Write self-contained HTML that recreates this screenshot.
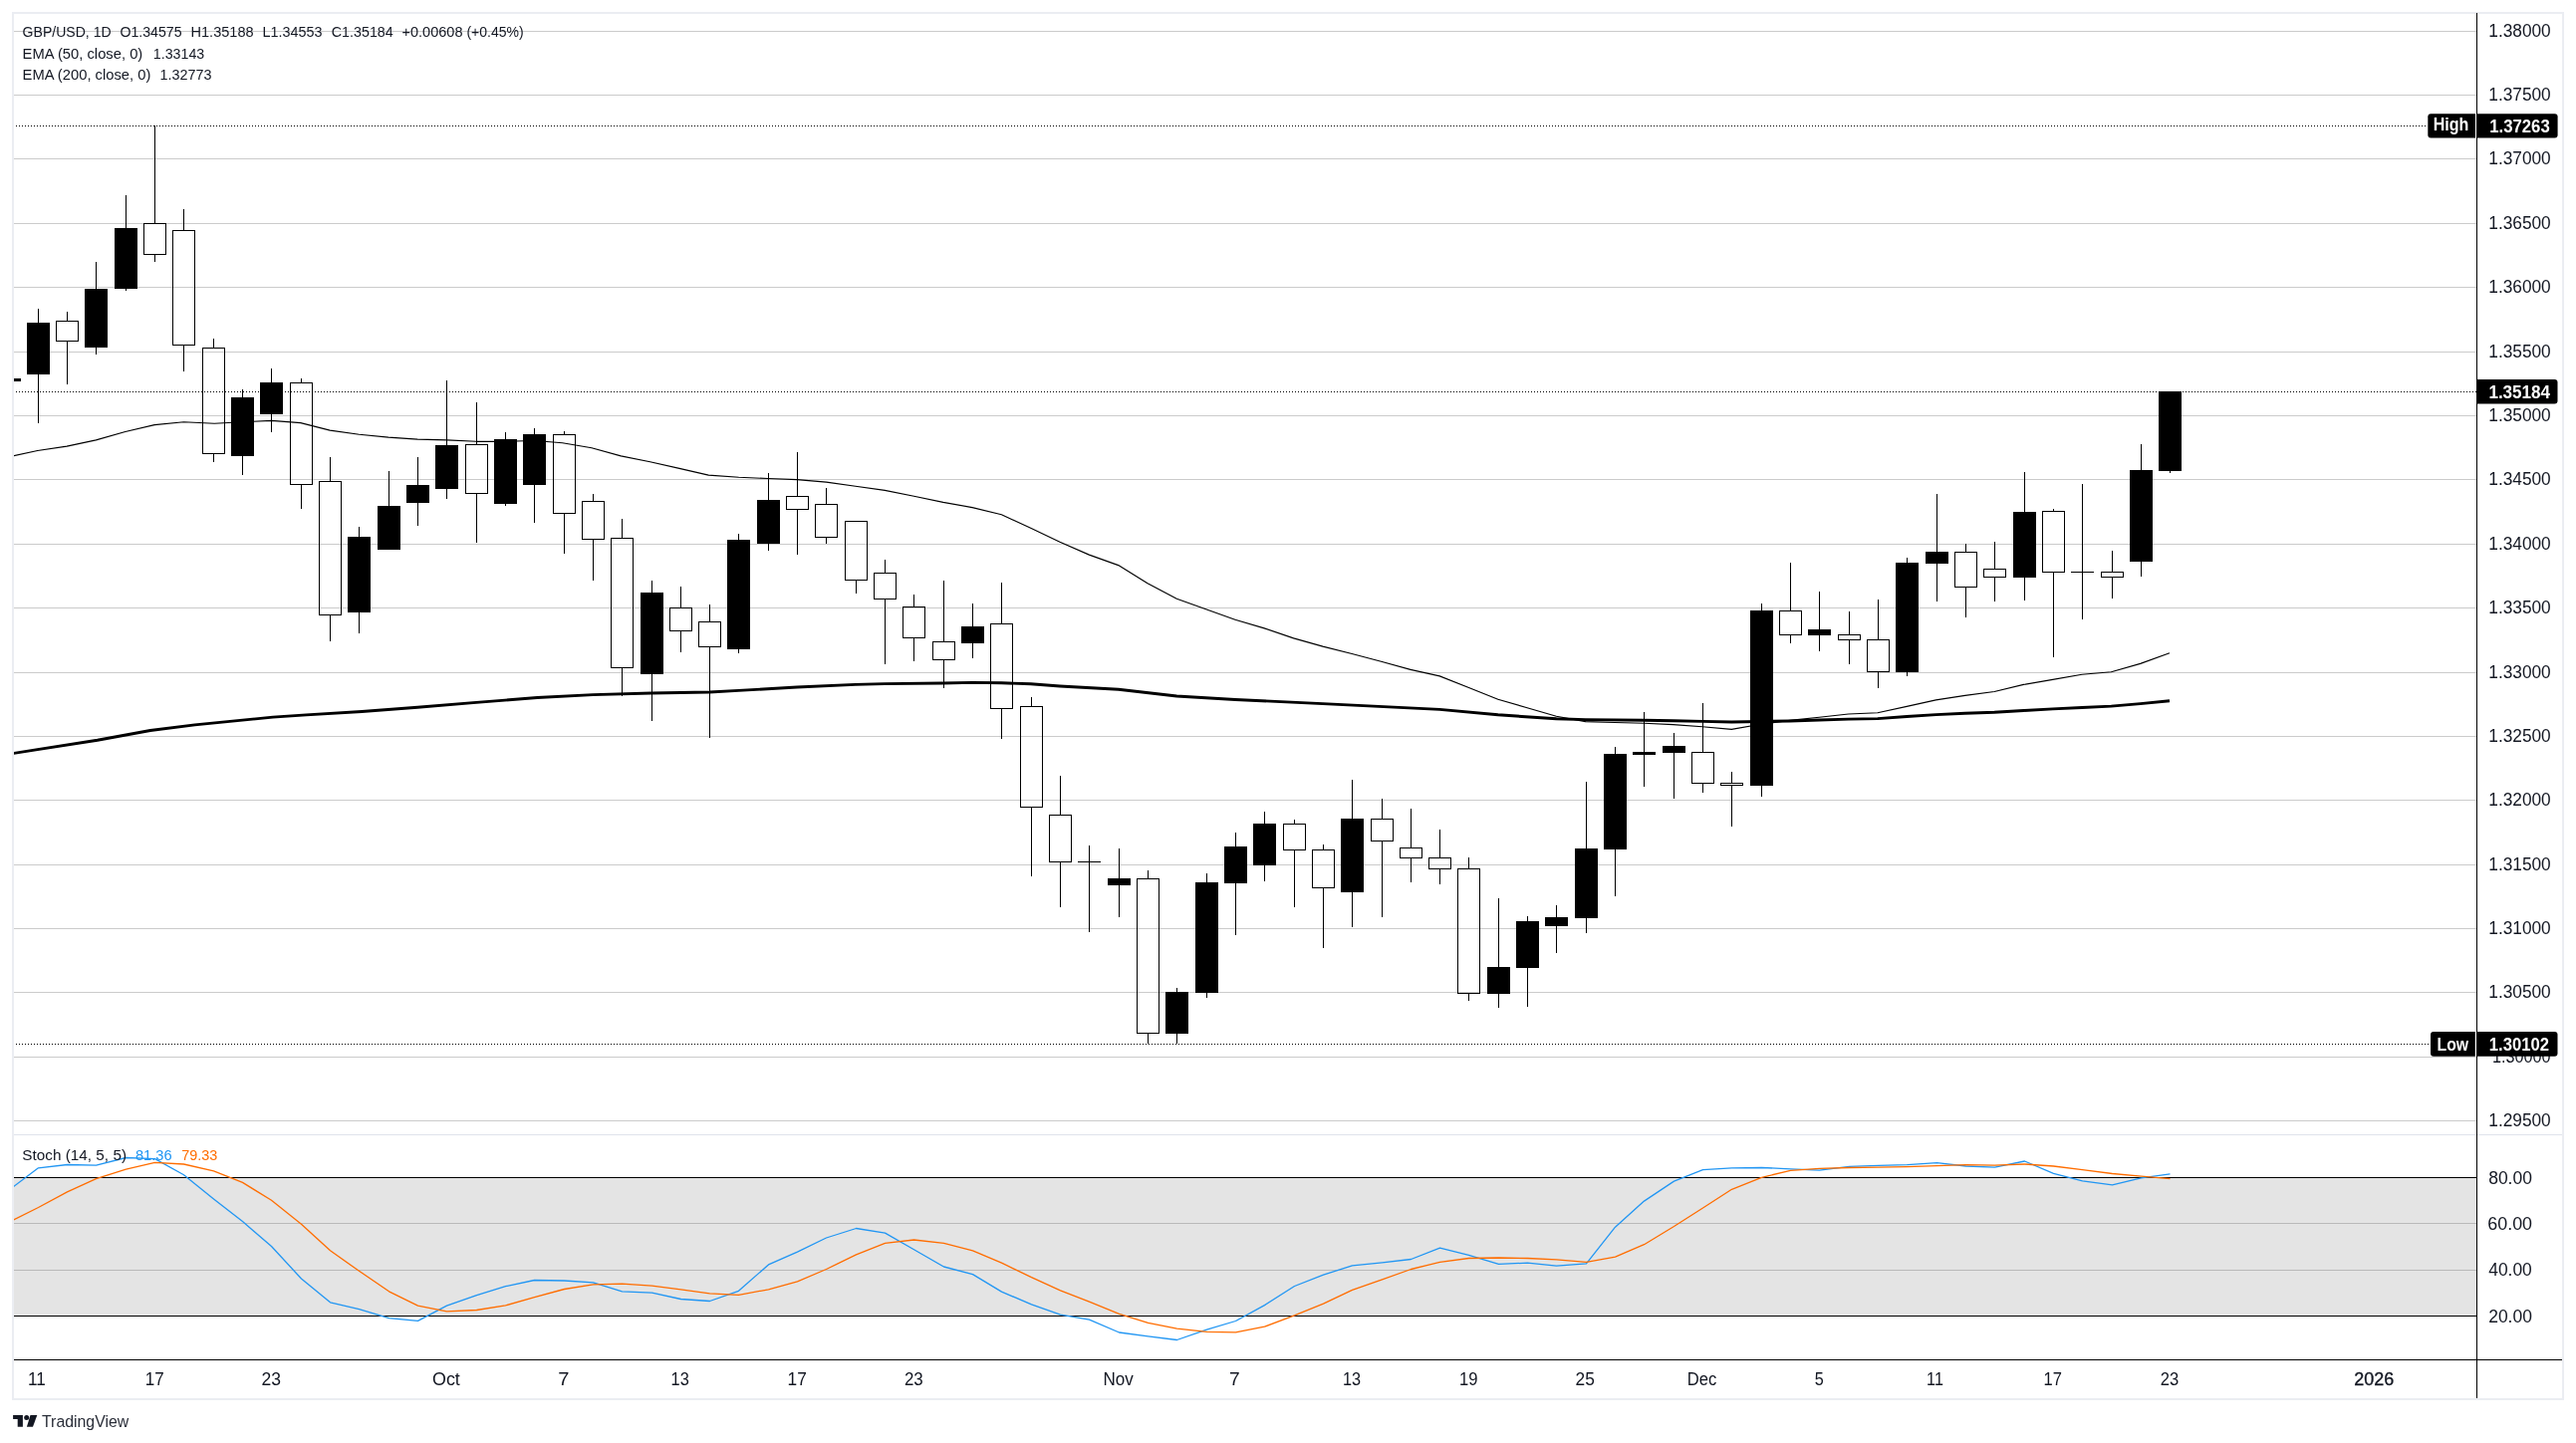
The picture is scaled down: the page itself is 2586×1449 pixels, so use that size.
<!DOCTYPE html>
<html><head><meta charset="utf-8"><title>GBP/USD 1D chart</title>
<style>
html,body{margin:0;padding:0;background:#fff;}
body{width:2586px;height:1449px;overflow:hidden;position:relative;}
svg{position:absolute;left:0;top:0;display:block;font-family:"Liberation Sans", Arial, sans-serif;will-change:transform;}
</style></head>
<body>
<svg width="2586" height="1449" viewBox="0 0 2586 1449">
<rect x="12" y="12" width="2562" height="2" fill="#ebedf2"/>
<rect x="12" y="1404" width="2562" height="2" fill="#ebedf2"/>
<rect x="12" y="12" width="2" height="1394" fill="#ebedf2"/>
<rect x="2572" y="12" width="2" height="1394" fill="#ebedf2"/>
<defs><clipPath id="cm"><rect x="14" y="14" width="2472" height="1125"/></clipPath><clipPath id="cs"><rect x="14" y="1140" width="2472" height="225"/></clipPath></defs>
<rect x="14" y="31" width="2472" height="1" fill="#cbcbcb"/>
<rect x="14" y="95" width="2472" height="1" fill="#cbcbcb"/>
<rect x="14" y="159" width="2472" height="1" fill="#cbcbcb"/>
<rect x="14" y="224" width="2472" height="1" fill="#cbcbcb"/>
<rect x="14" y="288" width="2472" height="1" fill="#cbcbcb"/>
<rect x="14" y="353" width="2472" height="1" fill="#cbcbcb"/>
<rect x="14" y="417" width="2472" height="1" fill="#cbcbcb"/>
<rect x="14" y="481" width="2472" height="1" fill="#cbcbcb"/>
<rect x="14" y="546" width="2472" height="1" fill="#cbcbcb"/>
<rect x="14" y="610" width="2472" height="1" fill="#cbcbcb"/>
<rect x="14" y="675" width="2472" height="1" fill="#cbcbcb"/>
<rect x="14" y="739" width="2472" height="1" fill="#cbcbcb"/>
<rect x="14" y="803" width="2472" height="1" fill="#cbcbcb"/>
<rect x="14" y="868" width="2472" height="1" fill="#cbcbcb"/>
<rect x="14" y="932" width="2472" height="1" fill="#cbcbcb"/>
<rect x="14" y="996" width="2472" height="1" fill="#cbcbcb"/>
<rect x="14" y="1061" width="2472" height="1" fill="#cbcbcb"/>
<rect x="14" y="1125" width="2472" height="1" fill="#cbcbcb"/>
<rect x="14" y="1183" width="2472" height="138" fill="#e4e4e4"/>
<rect x="14" y="1228" width="2472" height="1" fill="#b9b9b9"/>
<rect x="14" y="1275" width="2472" height="1" fill="#b9b9b9"/>
<rect x="14" y="1182" width="2472" height="1" fill="#000"/>
<rect x="14" y="1321" width="2472" height="1" fill="#000"/>
<rect x="14" y="1139" width="2558" height="1" fill="#e0e3eb"/>
<rect x="14" y="1365" width="2558" height="1" fill="#000"/>
<rect x="2486" y="13" width="1" height="1391" fill="#000"/>
<g clip-path="url(#cm)" shape-rendering="crispEdges">
<rect x="13" y="380" width="8" height="3" fill="#000"/>
<rect x="38" y="310" width="1" height="115" fill="#000"/>
<rect x="27" y="324" width="23" height="52" fill="#000"/>
<rect x="67" y="313" width="1" height="9" fill="#000"/>
<rect x="67" y="343" width="1" height="43" fill="#000"/>
<path d="M56,322h23v21h-23z M57,323v19h21v-19z" fill="#000" fill-rule="evenodd"/>
<rect x="96" y="263" width="1" height="93" fill="#000"/>
<rect x="85" y="290" width="23" height="59" fill="#000"/>
<rect x="126" y="196" width="1" height="96" fill="#000"/>
<rect x="115" y="229" width="23" height="61" fill="#000"/>
<rect x="155" y="126" width="1" height="98" fill="#000"/>
<rect x="155" y="256" width="1" height="7" fill="#000"/>
<path d="M144,224h23v32h-23z M145,225v30h21v-30z" fill="#000" fill-rule="evenodd"/>
<rect x="184" y="210" width="1" height="21" fill="#000"/>
<rect x="184" y="347" width="1" height="26" fill="#000"/>
<path d="M173,231h23v116h-23z M174,232v114h21v-114z" fill="#000" fill-rule="evenodd"/>
<rect x="214" y="340" width="1" height="9" fill="#000"/>
<rect x="214" y="456" width="1" height="8" fill="#000"/>
<path d="M203,349h23v107h-23z M204,350v105h21v-105z" fill="#000" fill-rule="evenodd"/>
<rect x="243" y="391" width="1" height="86" fill="#000"/>
<rect x="232" y="399" width="23" height="59" fill="#000"/>
<rect x="272" y="370" width="1" height="64" fill="#000"/>
<rect x="261" y="384" width="23" height="32" fill="#000"/>
<rect x="302" y="380" width="1" height="4" fill="#000"/>
<rect x="302" y="487" width="1" height="24" fill="#000"/>
<path d="M291,384h23v103h-23z M292,385v101h21v-101z" fill="#000" fill-rule="evenodd"/>
<rect x="331" y="459" width="1" height="24" fill="#000"/>
<rect x="331" y="618" width="1" height="26" fill="#000"/>
<path d="M320,483h23v135h-23z M321,484v133h21v-133z" fill="#000" fill-rule="evenodd"/>
<rect x="360" y="529" width="1" height="107" fill="#000"/>
<rect x="349" y="539" width="23" height="76" fill="#000"/>
<rect x="390" y="473" width="1" height="79" fill="#000"/>
<rect x="379" y="508" width="23" height="44" fill="#000"/>
<rect x="419" y="459" width="1" height="69" fill="#000"/>
<rect x="408" y="487" width="23" height="18" fill="#000"/>
<rect x="448" y="382" width="1" height="119" fill="#000"/>
<rect x="437" y="447" width="23" height="44" fill="#000"/>
<rect x="478" y="404" width="1" height="42" fill="#000"/>
<rect x="478" y="496" width="1" height="49" fill="#000"/>
<path d="M467,446h23v50h-23z M468,447v48h21v-48z" fill="#000" fill-rule="evenodd"/>
<rect x="507" y="434" width="1" height="74" fill="#000"/>
<rect x="496" y="441" width="23" height="65" fill="#000"/>
<rect x="536" y="430" width="1" height="95" fill="#000"/>
<rect x="525" y="436" width="23" height="51" fill="#000"/>
<rect x="566" y="433" width="1" height="3" fill="#000"/>
<rect x="566" y="516" width="1" height="40" fill="#000"/>
<path d="M555,436h23v80h-23z M556,437v78h21v-78z" fill="#000" fill-rule="evenodd"/>
<rect x="595" y="496" width="1" height="7" fill="#000"/>
<rect x="595" y="542" width="1" height="41" fill="#000"/>
<path d="M584,503h23v39h-23z M585,504v37h21v-37z" fill="#000" fill-rule="evenodd"/>
<rect x="624" y="521" width="1" height="19" fill="#000"/>
<rect x="624" y="671" width="1" height="28" fill="#000"/>
<path d="M613,540h23v131h-23z M614,541v129h21v-129z" fill="#000" fill-rule="evenodd"/>
<rect x="654" y="583" width="1" height="141" fill="#000"/>
<rect x="643" y="595" width="23" height="82" fill="#000"/>
<rect x="683" y="589" width="1" height="21" fill="#000"/>
<rect x="683" y="634" width="1" height="21" fill="#000"/>
<path d="M672,610h23v24h-23z M673,611v22h21v-22z" fill="#000" fill-rule="evenodd"/>
<rect x="712" y="607" width="1" height="17" fill="#000"/>
<rect x="712" y="650" width="1" height="91" fill="#000"/>
<path d="M701,624h23v26h-23z M702,625v24h21v-24z" fill="#000" fill-rule="evenodd"/>
<rect x="741" y="536" width="1" height="120" fill="#000"/>
<rect x="730" y="542" width="23" height="110" fill="#000"/>
<rect x="771" y="475" width="1" height="78" fill="#000"/>
<rect x="760" y="502" width="23" height="44" fill="#000"/>
<rect x="800" y="454" width="1" height="44" fill="#000"/>
<rect x="800" y="512" width="1" height="45" fill="#000"/>
<path d="M789,498h23v14h-23z M790,499v12h21v-12z" fill="#000" fill-rule="evenodd"/>
<rect x="829" y="490" width="1" height="16" fill="#000"/>
<rect x="829" y="540" width="1" height="6" fill="#000"/>
<path d="M818,506h23v34h-23z M819,507v32h21v-32z" fill="#000" fill-rule="evenodd"/>
<rect x="859" y="583" width="1" height="13" fill="#000"/>
<path d="M848,523h23v60h-23z M849,524v58h21v-58z" fill="#000" fill-rule="evenodd"/>
<rect x="888" y="562" width="1" height="13" fill="#000"/>
<rect x="888" y="602" width="1" height="65" fill="#000"/>
<path d="M877,575h23v27h-23z M878,576v25h21v-25z" fill="#000" fill-rule="evenodd"/>
<rect x="917" y="597" width="1" height="12" fill="#000"/>
<rect x="917" y="641" width="1" height="23" fill="#000"/>
<path d="M906,609h23v32h-23z M907,610v30h21v-30z" fill="#000" fill-rule="evenodd"/>
<rect x="947" y="583" width="1" height="61" fill="#000"/>
<rect x="947" y="663" width="1" height="28" fill="#000"/>
<path d="M936,644h23v19h-23z M937,645v17h21v-17z" fill="#000" fill-rule="evenodd"/>
<rect x="976" y="606" width="1" height="55" fill="#000"/>
<rect x="965" y="629" width="23" height="17" fill="#000"/>
<rect x="1005" y="585" width="1" height="41" fill="#000"/>
<rect x="1005" y="712" width="1" height="30" fill="#000"/>
<path d="M994,626h23v86h-23z M995,627v84h21v-84z" fill="#000" fill-rule="evenodd"/>
<rect x="1035" y="700" width="1" height="9" fill="#000"/>
<rect x="1035" y="811" width="1" height="69" fill="#000"/>
<path d="M1024,709h23v102h-23z M1025,710v100h21v-100z" fill="#000" fill-rule="evenodd"/>
<rect x="1064" y="779" width="1" height="39" fill="#000"/>
<rect x="1064" y="866" width="1" height="45" fill="#000"/>
<path d="M1053,818h23v48h-23z M1054,819v46h21v-46z" fill="#000" fill-rule="evenodd"/>
<rect x="1093" y="849" width="1" height="87" fill="#000"/>
<rect x="1082" y="865" width="23" height="1" fill="#000"/>
<rect x="1123" y="852" width="1" height="69" fill="#000"/>
<rect x="1112" y="882" width="23" height="7" fill="#000"/>
<rect x="1152" y="874" width="1" height="8" fill="#000"/>
<rect x="1152" y="1038" width="1" height="10" fill="#000"/>
<path d="M1141,882h23v156h-23z M1142,883v154h21v-154z" fill="#000" fill-rule="evenodd"/>
<rect x="1181" y="992" width="1" height="56" fill="#000"/>
<rect x="1170" y="996" width="23" height="42" fill="#000"/>
<rect x="1211" y="877" width="1" height="125" fill="#000"/>
<rect x="1200" y="886" width="23" height="111" fill="#000"/>
<rect x="1240" y="836" width="1" height="103" fill="#000"/>
<rect x="1229" y="850" width="23" height="37" fill="#000"/>
<rect x="1269" y="815" width="1" height="70" fill="#000"/>
<rect x="1258" y="827" width="23" height="42" fill="#000"/>
<rect x="1299" y="823" width="1" height="4" fill="#000"/>
<rect x="1299" y="854" width="1" height="57" fill="#000"/>
<path d="M1288,827h23v27h-23z M1289,828v25h21v-25z" fill="#000" fill-rule="evenodd"/>
<rect x="1328" y="848" width="1" height="5" fill="#000"/>
<rect x="1328" y="892" width="1" height="60" fill="#000"/>
<path d="M1317,853h23v39h-23z M1318,854v37h21v-37z" fill="#000" fill-rule="evenodd"/>
<rect x="1357" y="783" width="1" height="148" fill="#000"/>
<rect x="1346" y="822" width="23" height="74" fill="#000"/>
<rect x="1387" y="802" width="1" height="20" fill="#000"/>
<rect x="1387" y="845" width="1" height="76" fill="#000"/>
<path d="M1376,822h23v23h-23z M1377,823v21h21v-21z" fill="#000" fill-rule="evenodd"/>
<rect x="1416" y="812" width="1" height="39" fill="#000"/>
<rect x="1416" y="862" width="1" height="24" fill="#000"/>
<path d="M1405,851h23v11h-23z M1406,852v9h21v-9z" fill="#000" fill-rule="evenodd"/>
<rect x="1445" y="833" width="1" height="28" fill="#000"/>
<rect x="1445" y="873" width="1" height="15" fill="#000"/>
<path d="M1434,861h23v12h-23z M1435,862v10h21v-10z" fill="#000" fill-rule="evenodd"/>
<rect x="1474" y="861" width="1" height="11" fill="#000"/>
<rect x="1474" y="998" width="1" height="7" fill="#000"/>
<path d="M1463,872h23v126h-23z M1464,873v124h21v-124z" fill="#000" fill-rule="evenodd"/>
<rect x="1504" y="902" width="1" height="110" fill="#000"/>
<rect x="1493" y="971" width="23" height="27" fill="#000"/>
<rect x="1533" y="920" width="1" height="91" fill="#000"/>
<rect x="1522" y="925" width="23" height="47" fill="#000"/>
<rect x="1562" y="909" width="1" height="48" fill="#000"/>
<rect x="1551" y="921" width="23" height="9" fill="#000"/>
<rect x="1592" y="785" width="1" height="152" fill="#000"/>
<rect x="1581" y="852" width="23" height="70" fill="#000"/>
<rect x="1621" y="750" width="1" height="150" fill="#000"/>
<rect x="1610" y="757" width="23" height="96" fill="#000"/>
<rect x="1650" y="715" width="1" height="75" fill="#000"/>
<rect x="1639" y="755" width="23" height="3" fill="#000"/>
<rect x="1680" y="736" width="1" height="66" fill="#000"/>
<rect x="1669" y="749" width="23" height="7" fill="#000"/>
<rect x="1709" y="706" width="1" height="49" fill="#000"/>
<rect x="1709" y="787" width="1" height="9" fill="#000"/>
<path d="M1698,755h23v32h-23z M1699,756v30h21v-30z" fill="#000" fill-rule="evenodd"/>
<rect x="1738" y="775" width="1" height="11" fill="#000"/>
<rect x="1738" y="789" width="1" height="41" fill="#000"/>
<path d="M1727,786h23v3h-23z M1728,787v1h21v-1z" fill="#000" fill-rule="evenodd"/>
<rect x="1768" y="606" width="1" height="194" fill="#000"/>
<rect x="1757" y="613" width="23" height="176" fill="#000"/>
<rect x="1797" y="565" width="1" height="48" fill="#000"/>
<rect x="1797" y="638" width="1" height="8" fill="#000"/>
<path d="M1786,613h23v25h-23z M1787,614v23h21v-23z" fill="#000" fill-rule="evenodd"/>
<rect x="1826" y="594" width="1" height="60" fill="#000"/>
<rect x="1815" y="632" width="23" height="6" fill="#000"/>
<rect x="1856" y="614" width="1" height="23" fill="#000"/>
<rect x="1856" y="643" width="1" height="24" fill="#000"/>
<path d="M1845,637h23v6h-23z M1846,638v4h21v-4z" fill="#000" fill-rule="evenodd"/>
<rect x="1885" y="602" width="1" height="40" fill="#000"/>
<rect x="1885" y="675" width="1" height="16" fill="#000"/>
<path d="M1874,642h23v33h-23z M1875,643v31h21v-31z" fill="#000" fill-rule="evenodd"/>
<rect x="1914" y="560" width="1" height="119" fill="#000"/>
<rect x="1903" y="565" width="23" height="110" fill="#000"/>
<rect x="1944" y="496" width="1" height="108" fill="#000"/>
<rect x="1933" y="554" width="23" height="12" fill="#000"/>
<rect x="1973" y="546" width="1" height="8" fill="#000"/>
<rect x="1973" y="590" width="1" height="30" fill="#000"/>
<path d="M1962,554h23v36h-23z M1963,555v34h21v-34z" fill="#000" fill-rule="evenodd"/>
<rect x="2002" y="544" width="1" height="27" fill="#000"/>
<rect x="2002" y="580" width="1" height="24" fill="#000"/>
<path d="M1991,571h23v9h-23z M1992,572v7h21v-7z" fill="#000" fill-rule="evenodd"/>
<rect x="2032" y="474" width="1" height="129" fill="#000"/>
<rect x="2021" y="514" width="23" height="66" fill="#000"/>
<rect x="2061" y="511" width="1" height="2" fill="#000"/>
<rect x="2061" y="575" width="1" height="85" fill="#000"/>
<path d="M2050,513h23v62h-23z M2051,514v60h21v-60z" fill="#000" fill-rule="evenodd"/>
<rect x="2090" y="486" width="1" height="136" fill="#000"/>
<rect x="2079" y="574" width="23" height="1" fill="#000"/>
<rect x="2120" y="553" width="1" height="21" fill="#000"/>
<rect x="2120" y="580" width="1" height="21" fill="#000"/>
<path d="M2109,574h23v6h-23z M2110,575v4h21v-4z" fill="#000" fill-rule="evenodd"/>
<rect x="2149" y="446" width="1" height="133" fill="#000"/>
<rect x="2138" y="472" width="23" height="92" fill="#000"/>
<rect x="2178" y="393" width="1" height="82" fill="#000"/>
<rect x="2167" y="393" width="23" height="80" fill="#000"/>
</g>
<g clip-path="url(#cm)" fill="none" stroke-linejoin="round">
<polyline points="8.0,459.0 37.7,452.5 67.1,448.1 96.4,441.9 125.8,433.5 155.1,426.6 184.5,423.8 215.2,425.2 243.2,423.8 272.5,422.4 301.8,424.6 331.2,432.1 360.5,436.3 389.9,439.1 419.2,441.1 448.6,441.9 477.9,443.3 507.3,443.3 536.6,442.5 564.6,444.7 593.9,449.7 623.3,457.9 652.6,463.7 682.0,470.4 711.3,477.1 741.6,479.3 770.9,480.5 800.2,481.6 829.5,484.1 858.8,488.2 888.2,492.4 917.5,498.2 946.8,504.4 976.1,509.6 1005.4,516.8 1034.7,530.3 1064.0,544.3 1093.4,557.1 1122.7,567.6 1152.0,585.7 1181.3,601.3 1210.6,611.8 1239.9,622.3 1269.2,630.9 1298.6,640.9 1327.9,649.1 1357.2,656.5 1386.5,664.2 1415.9,672.4 1445.2,678.9 1474.5,690.5 1503.8,702.2 1533.1,710.8 1562.4,719.2 1591.7,724.6 1621.1,725.5 1650.4,726.2 1679.7,727.6 1709.0,729.7 1738.3,732.4 1767.6,727.2 1797.0,723.4 1826.3,720.2 1855.6,717.0 1884.9,715.7 1914.2,709.4 1943.5,702.9 1972.8,698.4 2002.1,694.5 2031.5,687.4 2060.8,682.4 2090.1,677.3 2119.4,674.8 2148.7,666.4 2178.0,655.8" stroke="#000" stroke-width="1.15"/>
<polyline points="8.0,757.3 37.7,752.6 97.8,743.3 150.9,733.5 195.6,727.9 273.9,720.1 307.4,717.9 363.3,714.5 419.2,710.3 475.1,705.6 539.4,700.5 595.3,697.6 654.0,696.0 712.6,695.0 741.6,693.4 800.2,690.0 858.8,687.4 888.2,686.6 946.8,686.0 976.1,685.4 1005.4,685.8 1034.7,686.8 1064.0,689.0 1122.7,692.3 1181.3,699.0 1239.9,702.5 1327.9,706.6 1445.2,712.4 1503.8,717.8 1562.4,721.8 1591.7,722.6 1650.4,723.2 1679.7,723.8 1709.0,724.4 1738.3,725.0 1767.6,724.5 1797.0,724.0 1826.3,723.0 1855.6,722.1 1884.9,721.6 1914.2,719.5 1943.5,717.6 1972.8,716.2 2002.1,715.2 2031.5,713.5 2060.8,711.9 2090.1,710.5 2119.4,709.1 2148.7,706.6 2178.0,703.8" stroke="#000" stroke-width="2.9"/>
</g>
<line x1="13" y1="126.5" x2="2437" y2="126.5" stroke="#000" stroke-width="1" stroke-dasharray="1 2" shape-rendering="crispEdges" clip-path="url(#cm)"/>
<line x1="13" y1="1048.5" x2="2440" y2="1048.5" stroke="#000" stroke-width="1" stroke-dasharray="1 2" shape-rendering="crispEdges" clip-path="url(#cm)"/>
<line x1="13" y1="393.5" x2="2486" y2="393.5" stroke="#000" stroke-width="1" stroke-dasharray="1 2" shape-rendering="crispEdges" clip-path="url(#cm)"/>
<g clip-path="url(#cs)" fill="none" stroke-linejoin="round">
<polyline points="13.3,1191.8 38.5,1172.8 67.5,1169.5 96.5,1170.2 126.5,1162.5 155.5,1163.6 184.5,1179.7 214.5,1204.0 243.5,1226.6 272.5,1251.5 302.5,1284.0 331.5,1307.8 360.5,1314.7 390.5,1323.7 419.5,1326.3 448.5,1311.2 478.5,1300.6 507.5,1291.7 536.5,1285.5 566.5,1286.0 595.5,1287.8 624.5,1296.8 654.5,1298.1 683.5,1304.5 712.5,1306.5 741.5,1296.3 771.5,1269.9 800.5,1257.1 829.5,1243.0 859.5,1233.5 888.5,1238.1 917.5,1254.8 947.5,1272.0 976.5,1279.6 1005.5,1297.1 1035.5,1309.9 1064.5,1320.1 1093.5,1325.2 1123.5,1338.0 1152.5,1341.9 1181.5,1345.5 1211.5,1335.2 1240.5,1326.5 1269.5,1310.6 1299.5,1291.5 1328.5,1280.1 1357.5,1270.9 1387.5,1267.8 1416.5,1264.5 1445.5,1253.2 1474.5,1260.4 1504.5,1269.4 1533.5,1268.1 1562.5,1271.2 1592.5,1268.9 1621.5,1232.2 1650.5,1206.1 1680.5,1186.1 1709.5,1174.6 1738.5,1172.8 1768.5,1172.5 1797.5,1173.8 1826.5,1175.1 1856.5,1171.3 1885.5,1170.3 1914.5,1169.6 1944.5,1167.7 1973.5,1171.0 2002.5,1172.1 2032.5,1166.0 2061.5,1178.3 2090.5,1185.9 2120.5,1189.9 2149.5,1182.9 2178.5,1178.8" stroke="#2196f3" stroke-width="1.3"/>
<polyline points="13.3,1225.0 38.5,1212.5 67.5,1196.9 96.5,1183.6 126.5,1174.1 155.5,1167.4 184.5,1169.0 214.5,1175.9 243.5,1187.4 272.5,1205.3 302.5,1229.2 331.5,1255.8 360.5,1276.3 390.5,1296.8 419.5,1311.2 448.5,1316.8 478.5,1315.5 507.5,1310.9 536.5,1302.7 566.5,1294.5 595.5,1289.9 624.5,1289.1 654.5,1291.2 683.5,1294.8 712.5,1298.9 741.5,1300.4 771.5,1294.8 800.5,1286.8 829.5,1274.5 859.5,1259.9 888.5,1248.4 917.5,1245.0 947.5,1248.4 976.5,1255.8 1005.5,1268.1 1035.5,1282.7 1064.5,1295.8 1093.5,1307.1 1123.5,1319.3 1152.5,1328.3 1181.5,1334.2 1211.5,1337.3 1240.5,1337.8 1269.5,1332.2 1299.5,1320.9 1328.5,1309.1 1357.5,1295.3 1387.5,1284.8 1416.5,1274.5 1445.5,1267.3 1474.5,1263.5 1504.5,1263.0 1533.5,1263.5 1562.5,1264.8 1592.5,1267.3 1621.5,1262.2 1650.5,1249.7 1680.5,1231.5 1709.5,1213.0 1738.5,1194.3 1768.5,1182.3 1797.5,1175.4 1826.5,1173.3 1856.5,1172.5 1885.5,1172.1 1914.5,1171.6 1944.5,1170.6 1973.5,1169.7 2002.5,1170.1 2032.5,1169.0 2061.5,1171.0 2090.5,1174.6 2120.5,1178.5 2149.5,1181.2 2178.5,1183.6" stroke="#ff6d00" stroke-width="1.3"/>
</g>
<path d="M13.1,1421 H22.9 V1432.7 H17.7 V1425.1 H13.1 Z" fill="#131722"/>
<circle cx="26.7" cy="1423.4" r="2.5" fill="#131722"/>
<path d="M30.5,1421 H37.3 L33.0,1432.7 H26.9 Z" fill="#131722"/>
<text x="22.6" y="37.4" font-size="14.5" fill="#131722" textLength="89.0" lengthAdjust="spacingAndGlyphs">GBP/USD, 1D</text>
<text x="120.4" y="37.4" font-size="14.5" fill="#131722" textLength="62.2" lengthAdjust="spacingAndGlyphs">O1.34575</text>
<text x="191.5" y="37.4" font-size="14.5" fill="#131722" textLength="63.1" lengthAdjust="spacingAndGlyphs">H1.35188</text>
<text x="263.4" y="37.4" font-size="14.5" fill="#131722" textLength="60.0" lengthAdjust="spacingAndGlyphs">L1.34553</text>
<text x="332.8" y="37.4" font-size="14.5" fill="#131722" textLength="61.9" lengthAdjust="spacingAndGlyphs">C1.35184</text>
<text x="403.5" y="37.4" font-size="14.5" fill="#131722" textLength="61.0" lengthAdjust="spacingAndGlyphs">+0.00608</text>
<text x="468.4" y="37.4" font-size="14.5" fill="#131722" textLength="57.2" lengthAdjust="spacingAndGlyphs">(+0.45%)</text>
<text x="22.6" y="58.8" font-size="14.5" fill="#131722" textLength="120.7" lengthAdjust="spacingAndGlyphs">EMA (50, close, 0)</text>
<text x="153.8" y="58.8" font-size="14.5" fill="#131722" textLength="51.4" lengthAdjust="spacingAndGlyphs">1.33143</text>
<text x="22.6" y="79.8" font-size="14.5" fill="#131722" textLength="128.8" lengthAdjust="spacingAndGlyphs">EMA (200, close, 0)</text>
<text x="160.5" y="79.8" font-size="14.5" fill="#131722" textLength="52.0" lengthAdjust="spacingAndGlyphs">1.32773</text>
<text x="22.3" y="1164.9" font-size="14.5" fill="#131722" textLength="104.7" lengthAdjust="spacingAndGlyphs">Stoch (14, 5, 5)</text>
<text x="135.9" y="1164.9" font-size="14.5" fill="#2196f3" textLength="36.8" lengthAdjust="spacingAndGlyphs">81.36</text>
<text x="182.3" y="1164.9" font-size="14.5" fill="#ff6d00" textLength="36.1" lengthAdjust="spacingAndGlyphs">79.33</text>
<text x="2498.3" y="37.2" font-size="17.5" fill="#131722" textLength="62.4" lengthAdjust="spacingAndGlyphs">1.38000</text>
<text x="2498.3" y="101.2" font-size="17.5" fill="#131722" textLength="62.4" lengthAdjust="spacingAndGlyphs">1.37500</text>
<text x="2498.3" y="165.2" font-size="17.5" fill="#131722" textLength="62.4" lengthAdjust="spacingAndGlyphs">1.37000</text>
<text x="2498.3" y="230.2" font-size="17.5" fill="#131722" textLength="62.4" lengthAdjust="spacingAndGlyphs">1.36500</text>
<text x="2498.3" y="294.2" font-size="17.5" fill="#131722" textLength="62.4" lengthAdjust="spacingAndGlyphs">1.36000</text>
<text x="2498.3" y="359.2" font-size="17.5" fill="#131722" textLength="62.4" lengthAdjust="spacingAndGlyphs">1.35500</text>
<text x="2498.3" y="423.2" font-size="17.5" fill="#131722" textLength="62.4" lengthAdjust="spacingAndGlyphs">1.35000</text>
<text x="2498.3" y="487.2" font-size="17.5" fill="#131722" textLength="62.4" lengthAdjust="spacingAndGlyphs">1.34500</text>
<text x="2498.3" y="552.2" font-size="17.5" fill="#131722" textLength="62.4" lengthAdjust="spacingAndGlyphs">1.34000</text>
<text x="2498.3" y="616.2" font-size="17.5" fill="#131722" textLength="62.4" lengthAdjust="spacingAndGlyphs">1.33500</text>
<text x="2498.3" y="681.2" font-size="17.5" fill="#131722" textLength="62.4" lengthAdjust="spacingAndGlyphs">1.33000</text>
<text x="2498.3" y="745.2" font-size="17.5" fill="#131722" textLength="62.4" lengthAdjust="spacingAndGlyphs">1.32500</text>
<text x="2498.3" y="809.2" font-size="17.5" fill="#131722" textLength="62.4" lengthAdjust="spacingAndGlyphs">1.32000</text>
<text x="2498.3" y="874.2" font-size="17.5" fill="#131722" textLength="62.4" lengthAdjust="spacingAndGlyphs">1.31500</text>
<text x="2498.3" y="938.2" font-size="17.5" fill="#131722" textLength="62.4" lengthAdjust="spacingAndGlyphs">1.31000</text>
<text x="2498.3" y="1002.2" font-size="17.5" fill="#131722" textLength="62.4" lengthAdjust="spacingAndGlyphs">1.30500</text>
<text x="2501.9" y="1067.2" font-size="17.5" fill="#131722" textLength="58.5" lengthAdjust="spacingAndGlyphs">1.30000</text>
<text x="2498.3" y="1131.2" font-size="17.5" fill="#131722" textLength="62.4" lengthAdjust="spacingAndGlyphs">1.29500</text>
<text x="2498.2" y="1188.8" font-size="17.5" fill="#131722" textLength="43.7" lengthAdjust="spacingAndGlyphs">80.00</text>
<text x="2497.3" y="1234.8" font-size="17.5" fill="#131722" textLength="44.7" lengthAdjust="spacingAndGlyphs">60.00</text>
<text x="2498.2" y="1281.4" font-size="17.5" fill="#131722" textLength="43.6" lengthAdjust="spacingAndGlyphs">40.00</text>
<text x="2498.2" y="1327.6" font-size="17.5" fill="#131722" textLength="43.7" lengthAdjust="spacingAndGlyphs">20.00</text>
<text x="28.1" y="1391.0" font-size="17.5" fill="#131722" textLength="17.8" lengthAdjust="spacingAndGlyphs">11</text>
<text x="145.8" y="1391.0" font-size="17.5" fill="#131722" textLength="19.0" lengthAdjust="spacingAndGlyphs">17</text>
<text x="262.6" y="1391.0" font-size="17.5" fill="#131722" textLength="19.5" lengthAdjust="spacingAndGlyphs">23</text>
<text x="434.0" y="1391.0" font-size="17.5" fill="#131722" textLength="27.8" lengthAdjust="spacingAndGlyphs">Oct</text>
<text x="560.3" y="1391.0" font-size="17.5" fill="#131722" textLength="11.2" lengthAdjust="spacingAndGlyphs">7</text>
<text x="673.6" y="1391.0" font-size="17.5" fill="#131722" textLength="18.2" lengthAdjust="spacingAndGlyphs">13</text>
<text x="790.5" y="1391.0" font-size="17.5" fill="#131722" textLength="19.3" lengthAdjust="spacingAndGlyphs">17</text>
<text x="907.9" y="1391.0" font-size="17.5" fill="#131722" textLength="18.8" lengthAdjust="spacingAndGlyphs">23</text>
<text x="1107.5" y="1391.0" font-size="17.5" fill="#131722" textLength="30.3" lengthAdjust="spacingAndGlyphs">Nov</text>
<text x="1234.1" y="1391.0" font-size="17.5" fill="#131722" textLength="10.7" lengthAdjust="spacingAndGlyphs">7</text>
<text x="1348.0" y="1391.0" font-size="17.5" fill="#131722" textLength="18.1" lengthAdjust="spacingAndGlyphs">13</text>
<text x="1464.9" y="1391.0" font-size="17.5" fill="#131722" textLength="18.5" lengthAdjust="spacingAndGlyphs">19</text>
<text x="1581.6" y="1391.0" font-size="17.5" fill="#131722" textLength="19.3" lengthAdjust="spacingAndGlyphs">25</text>
<text x="1693.8" y="1391.0" font-size="17.5" fill="#131722" textLength="29.5" lengthAdjust="spacingAndGlyphs">Dec</text>
<text x="1821.8" y="1391.0" font-size="17.5" fill="#131722" textLength="9.0" lengthAdjust="spacingAndGlyphs">5</text>
<text x="1934.1" y="1391.0" font-size="17.5" fill="#131722" textLength="16.8" lengthAdjust="spacingAndGlyphs">11</text>
<text x="2051.6" y="1391.0" font-size="17.5" fill="#131722" textLength="18.4" lengthAdjust="spacingAndGlyphs">17</text>
<text x="2168.8" y="1391.0" font-size="17.5" fill="#131722" textLength="18.4" lengthAdjust="spacingAndGlyphs">23</text>
<text x="2363.3" y="1391.0" font-size="17.5" fill="#131722" textLength="39.9" lengthAdjust="spacingAndGlyphs" stroke="#131722" stroke-width="0.35">2026</text>
<text x="42.0" y="1432.7" font-size="16.3" fill="#2a2e39" textLength="87.3" lengthAdjust="spacingAndGlyphs">TradingView</text>
<path d="M2485,114.3 L2440.3,114.3 Q2437.3,114.3 2437.3,117.3 L2437.3,135.6 Q2437.3,138.6 2440.3,138.6 L2485,138.6 Z" fill="#000"/>
<path d="M2486,114.3 L2564.6,114.3 Q2567.6,114.3 2567.6,117.3 L2567.6,135.6 Q2567.6,138.6 2564.6,138.6 L2486,138.6 Z" fill="#000"/>
<path d="M2484.8,1036.1 L2443,1036.1 Q2440,1036.1 2440,1039.1 L2440,1057.8 Q2440,1060.8 2443,1060.8 L2484.8,1060.8 Z" fill="#000"/>
<path d="M2486,1036.1 L2564.5,1036.1 Q2567.5,1036.1 2567.5,1039.1 L2567.5,1057.8 Q2567.5,1060.8 2564.5,1060.8 L2486,1060.8 Z" fill="#000"/>
<path d="M2486,381 L2564.5,381 Q2567.5,381 2567.5,384 L2567.5,402.6 Q2567.5,405.6 2564.5,405.6 L2486,405.6 Z" fill="#000"/>
<text x="2442.8" y="130.6" font-size="17.5" fill="#fff" textLength="35.6" lengthAdjust="spacingAndGlyphs" font-weight="bold">High</text>
<text x="2499.3" y="133.2" font-size="17.5" fill="#fff" textLength="60.4" lengthAdjust="spacingAndGlyphs" font-weight="bold">1.37263</text>
<text x="2446.6" y="1055.0" font-size="17.5" fill="#fff" textLength="31.5" lengthAdjust="spacingAndGlyphs" font-weight="bold">Low</text>
<text x="2498.8" y="1055.1" font-size="17.5" fill="#fff" textLength="60.1" lengthAdjust="spacingAndGlyphs" font-weight="bold">1.30102</text>
<text x="2498.4" y="400.0" font-size="17.5" fill="#fff" textLength="61.7" lengthAdjust="spacingAndGlyphs" font-weight="bold">1.35184</text>
</svg>
</body></html>
